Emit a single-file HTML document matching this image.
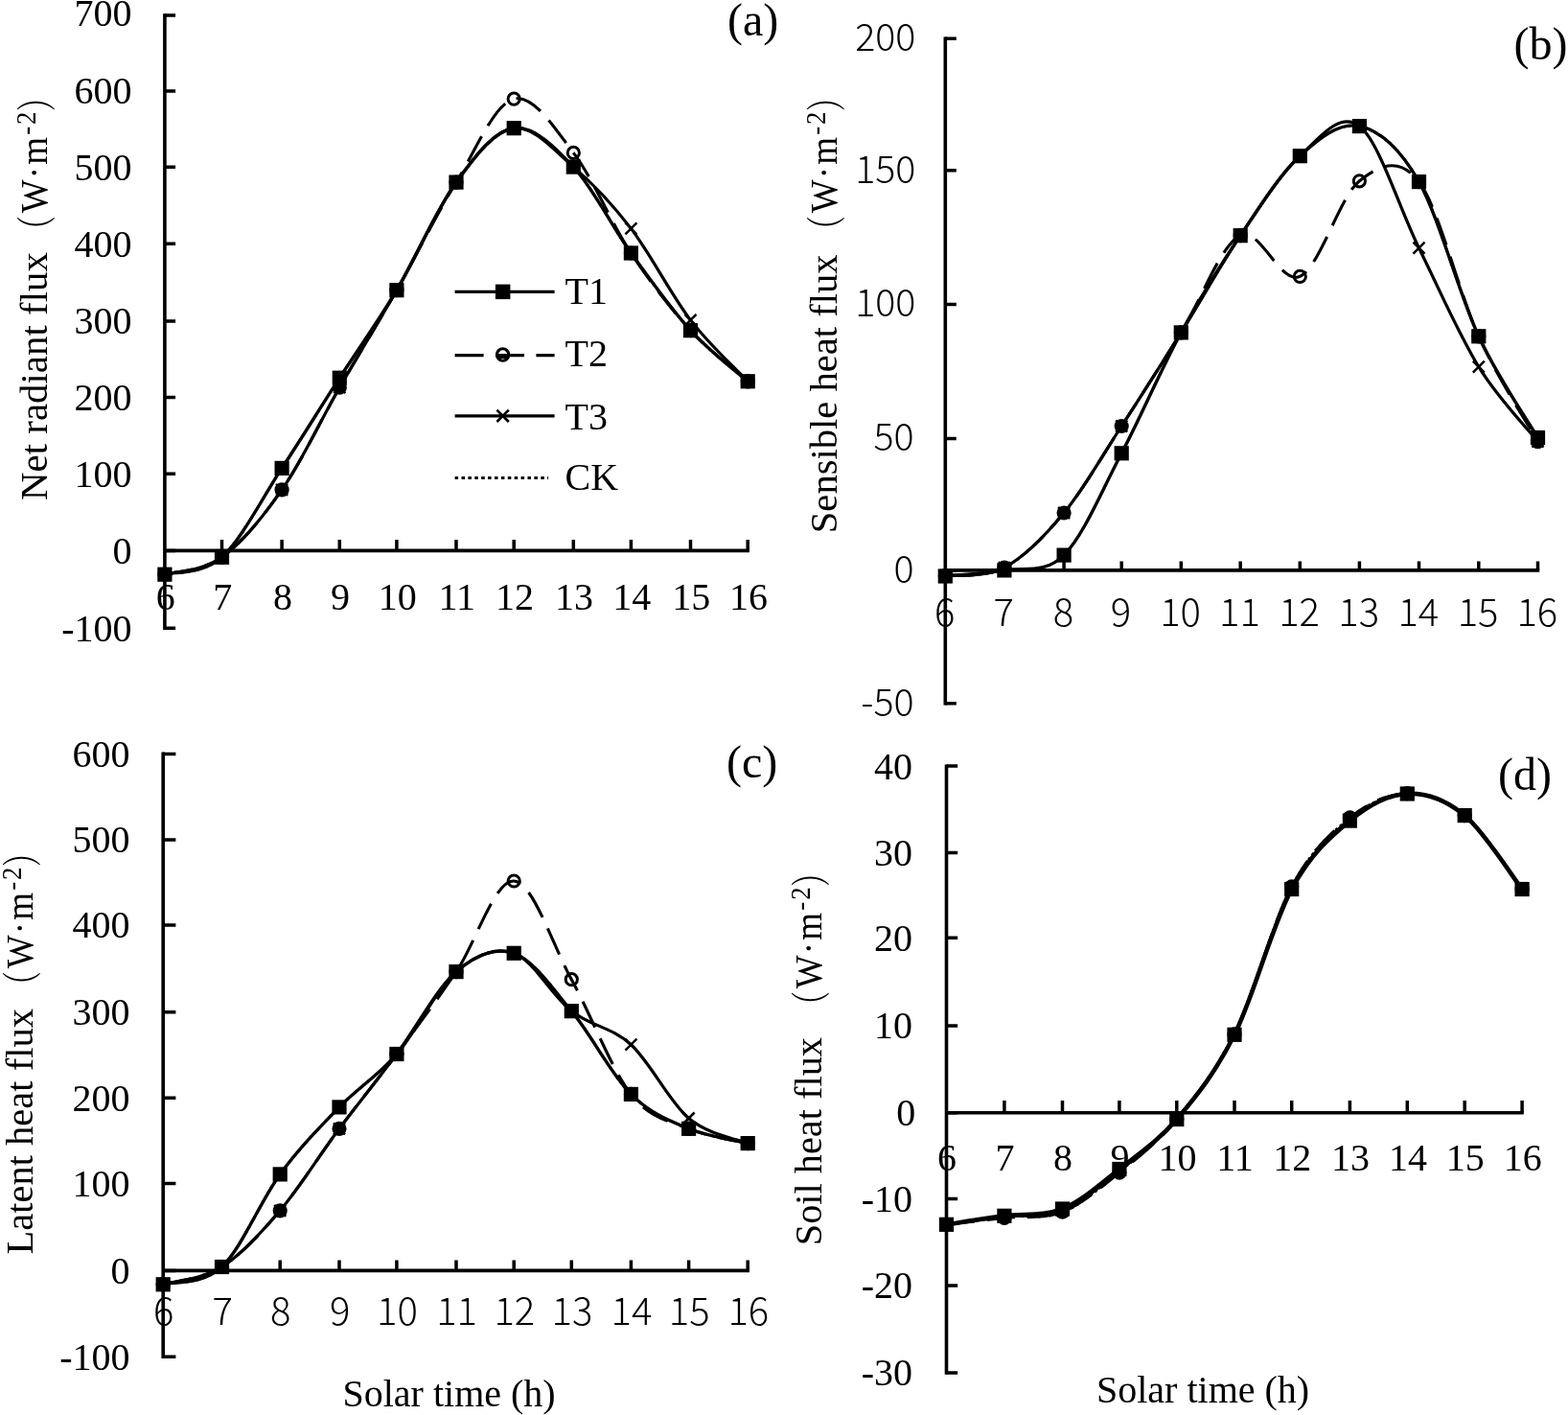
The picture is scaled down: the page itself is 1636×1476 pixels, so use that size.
<!DOCTYPE html>
<html lang="en"><head><meta charset="utf-8"><title>Diurnal variation of energy fluxes</title>
<style>html,body{margin:0;padding:0;background:#fff}body{width:1636px;height:1476px;overflow:hidden}svg{display:block}text{fill:#000}</style>
</head><body>
<svg width="1636" height="1476" viewBox="0 0 1636 1476" role="img" aria-label="Diurnal variation of net radiant, sensible, latent and soil heat flux for treatments T1, T2, T3 and CK">
<rect width="1636" height="1476" fill="#fff"/>
<g id="panel-a">
<text x="137.5" y="668.6" text-anchor="end" font-family='"Liberation Serif", "Noto Serif CJK SC", serif' font-size="40">-100</text>
<text x="137.5" y="587.8" text-anchor="end" font-family='"Liberation Serif", "Noto Serif CJK SC", serif' font-size="40">0</text>
<text x="137.5" y="507.6" text-anchor="end" font-family='"Liberation Serif", "Noto Serif CJK SC", serif' font-size="40">100</text>
<text x="137.5" y="427.9" text-anchor="end" font-family='"Liberation Serif", "Noto Serif CJK SC", serif' font-size="40">200</text>
<text x="137.5" y="348.4" text-anchor="end" font-family='"Liberation Serif", "Noto Serif CJK SC", serif' font-size="40">300</text>
<text x="137.5" y="267.7" text-anchor="end" font-family='"Liberation Serif", "Noto Serif CJK SC", serif' font-size="40">400</text>
<text x="137.5" y="187.7" text-anchor="end" font-family='"Liberation Serif", "Noto Serif CJK SC", serif' font-size="40">500</text>
<text x="137.5" y="108.4" text-anchor="end" font-family='"Liberation Serif", "Noto Serif CJK SC", serif' font-size="40">600</text>
<text x="137.5" y="27.1" text-anchor="end" font-family='"Liberation Serif", "Noto Serif CJK SC", serif' font-size="40">700</text>
<text x="172.7" y="636" text-anchor="middle" font-family='"Liberation Serif", "Noto Serif CJK SC", serif' font-size="40">6</text>
<text x="232.3" y="636" text-anchor="middle" font-family='"Liberation Serif", "Noto Serif CJK SC", serif' font-size="40">7</text>
<text x="294.9" y="636" text-anchor="middle" font-family='"Liberation Serif", "Noto Serif CJK SC", serif' font-size="40">8</text>
<text x="355.1" y="636" text-anchor="middle" font-family='"Liberation Serif", "Noto Serif CJK SC", serif' font-size="40">9</text>
<text x="414.7" y="636" text-anchor="middle" font-family='"Liberation Serif", "Noto Serif CJK SC", serif' font-size="40">10</text>
<text x="476.8" y="636" text-anchor="middle" font-family='"Liberation Serif", "Noto Serif CJK SC", serif' font-size="40">11</text>
<text x="537" y="636" text-anchor="middle" font-family='"Liberation Serif", "Noto Serif CJK SC", serif' font-size="40">12</text>
<text x="599.1" y="636" text-anchor="middle" font-family='"Liberation Serif", "Noto Serif CJK SC", serif' font-size="40">13</text>
<text x="659.2" y="636" text-anchor="middle" font-family='"Liberation Serif", "Noto Serif CJK SC", serif' font-size="40">14</text>
<text x="721.3" y="636" text-anchor="middle" font-family='"Liberation Serif", "Noto Serif CJK SC", serif' font-size="40">15</text>
<text x="781" y="636" text-anchor="middle" font-family='"Liberation Serif", "Noto Serif CJK SC", serif' font-size="40">16</text>
<text transform="translate(48.8 522) rotate(-90)" font-family='"Liberation Serif", "Noto Serif CJK SC", serif' font-size="40.9">Net radiant flux</text>
<g transform="translate(48.8 222.3) rotate(-90)"><text transform="translate(-32.1 4) scale(0.7 1)" font-family='"Noto Serif CJK SC", "Noto Sans CJK SC", serif' font-size="42">（</text><text transform="scale(0.925 1)" font-family='"Liberation Serif", "Noto Serif CJK SC", serif' font-size="40">W<tspan dx="1.2">·</tspan><tspan dx="2.3">m</tspan><tspan font-size="29" dy="-12" dx="2.5">-</tspan><tspan font-size="29" dx="2">2</tspan></text><text transform="translate(106.4 4) scale(0.7 1)" font-family='"Noto Serif CJK SC", "Noto Sans CJK SC", serif' font-size="42">）</text></g>
<text x="759" y="37" font-family='"Liberation Serif", "Noto Serif CJK SC", serif' font-size="48">(a)</text>
<g stroke="#000" fill="none">
<path d="M171.9 14.2V657" stroke-width="3.6"/>
<path d="M171.9 574.4H782" stroke-width="3.6"/>
<path d="M171.9 655.2h11.2M171.9 574.4h11.2M171.9 494.2h11.2M171.9 414.5h11.2M171.9 335h11.2M171.9 254.3h11.2M171.9 174.3h11.2M171.9 95h11.2M171.9 15.9h11.2M231.5 574.4v-11.4M294.1 574.4v-11.4M354.3 574.4v-11.4M413.9 574.4v-11.4M476 574.4v-11.4M536.2 574.4v-11.4M598.3 574.4v-11.4M658.4 574.4v-11.4M720.5 574.4v-11.4M780.2 574.4v-11.4" stroke-width="3.5"/>
</g>
<g fill="none" stroke="#000" stroke-linejoin="round">
<path d="M171.9 599.2C181.8 596.2 211.1 599.7 231.5 581.3C251.9 562.8 273.6 519.6 294.1 488.4C314.6 457.3 334.3 425.2 354.3 394.2C374.3 363.3 393.6 336.8 413.9 302.7C434.2 268.7 455.6 218.3 476 190.1C496.4 161.9 515.8 136.3 536.2 133.7C556.6 131 577.9 152.4 598.3 174.1C618.7 195.8 638 235.6 658.4 264C678.8 292.4 700.2 322.4 720.5 344.7C740.8 367 770.2 389 780.2 397.8" stroke-width="3.4"/>
<path d="M171.9 599.2C181.8 596.2 211.1 596 231.5 581.3C251.9 566.6 273.6 540.4 294.1 510.9C314.6 481.4 334.3 438.9 354.3 404.2C374.3 369.5 393.6 338.4 413.9 302.7C434.2 267.1 455.6 223.3 476 190.1C496.4 156.8 515.8 108.3 536.2 103.2C556.6 98.1 577.9 132.6 598.3 159.4C618.7 186.2 638 233.1 658.4 264C678.8 294.9 700.2 322.4 720.5 344.7C740.8 367 770.2 389 780.2 397.8" stroke-width="3.1" stroke-dasharray="29.6 12.8" stroke-dashoffset="0"/>
<path d="M171.9 599.2C181.8 596.2 211.1 596 231.5 581.3C251.9 566.6 273.6 540.4 294.1 510.9C314.6 481.4 334.3 438.9 354.3 404.2C374.3 369.5 393.6 338.4 413.9 302.7C434.2 267.1 455.6 218.3 476 190.1C496.4 161.9 515.8 136.3 536.2 133.7C556.6 131 577.9 156.6 598.3 174.1C618.7 191.6 638 211.8 658.4 238.4C678.8 265.1 700.2 307.3 720.5 333.9C740.8 360.5 770.2 387.2 780.2 397.8" stroke-width="3.2"/>
<path d="M171.9 599.2C181.8 596.2 211.1 599.7 231.5 581.3C251.9 562.8 273.6 519.6 294.1 488.4C314.6 457.3 334.3 425.2 354.3 394.2C374.3 363.3 393.6 336.8 413.9 302.7C434.2 268.7 455.6 218.3 476 190.1C496.4 161.9 515.8 136.3 536.2 133.7C556.6 131 577.9 152.4 598.3 174.1C618.7 195.8 638 235.6 658.4 264C678.8 292.4 700.2 322.4 720.5 344.7C740.8 367 770.2 389 780.2 397.8" stroke-width="2.6" stroke-dasharray="3 3"/>
</g>
<g fill="#000"><rect x="164.3" y="591.6" width="15.2" height="15.2"/><rect x="223.9" y="573.7" width="15.2" height="15.2"/><rect x="286.5" y="480.8" width="15.2" height="15.2"/><rect x="346.7" y="386.6" width="15.2" height="15.2"/><rect x="406.3" y="295.1" width="15.2" height="15.2"/><rect x="468.4" y="182.5" width="15.2" height="15.2"/><rect x="528.6" y="126.1" width="15.2" height="15.2"/><rect x="590.7" y="166.5" width="15.2" height="15.2"/><rect x="650.8" y="256.4" width="15.2" height="15.2"/><rect x="712.9" y="337.1" width="15.2" height="15.2"/><rect x="772.6" y="390.2" width="15.2" height="15.2"/></g>
<g stroke="#000" stroke-width="3"><circle cx="171.9" cy="599.2" r="6.1" fill="#000"/><circle cx="231.5" cy="581.3" r="6.1" fill="#000"/><circle cx="294.1" cy="510.9" r="6.1" fill="#000"/><circle cx="354.3" cy="404.2" r="6.1" fill="#000"/><circle cx="413.9" cy="302.7" r="6.1" fill="#000"/><circle cx="476" cy="190.1" r="6.1" fill="#000"/><circle cx="536.2" cy="103.2" r="6.1" fill="none"/><circle cx="598.3" cy="159.4" r="6.1" fill="none"/><circle cx="658.4" cy="264" r="6.1" fill="none"/><circle cx="720.5" cy="344.7" r="6.1" fill="none"/><circle cx="780.2" cy="397.8" r="6.1" fill="#000"/></g>
<path d="M165.9 593.2l12 12m-12 0l12 -12M225.5 575.3l12 12m-12 0l12 -12M288.1 504.9l12 12m-12 0l12 -12M348.3 398.2l12 12m-12 0l12 -12M407.9 296.7l12 12m-12 0l12 -12M470 184.1l12 12m-12 0l12 -12M530.2 127.7l12 12m-12 0l12 -12M592.3 168.1l12 12m-12 0l12 -12M652.4 232.4l12 12m-12 0l12 -12M714.5 327.9l12 12m-12 0l12 -12M774.2 391.8l12 12m-12 0l12 -12" stroke="#000" stroke-width="2.5" fill="none"/>
</g>
<g id="panel-b">
<text x="953.6" y="746.6" text-anchor="end" font-family='"Noto Sans CJK SC", "Liberation Sans", sans-serif' font-size="39.4" font-weight="300">-50</text>
<text x="953.6" y="607.8" text-anchor="end" font-family='"Noto Sans CJK SC", "Liberation Sans", sans-serif' font-size="39.4" font-weight="300">0</text>
<text x="953.6" y="470.4" text-anchor="end" font-family='"Noto Sans CJK SC", "Liberation Sans", sans-serif' font-size="39.4" font-weight="300">50</text>
<text x="955.4" y="330.3" text-anchor="end" font-family='"Noto Sans CJK SC", "Liberation Sans", sans-serif' font-size="39.4" font-weight="300">100</text>
<text x="955.4" y="190.7" text-anchor="end" font-family='"Noto Sans CJK SC", "Liberation Sans", sans-serif' font-size="39.4" font-weight="300">150</text>
<text x="955.4" y="53.2" text-anchor="end" font-family='"Noto Sans CJK SC", "Liberation Sans", sans-serif' font-size="39.4" font-weight="300">200</text>
<text x="985.6" y="652.8" text-anchor="middle" font-family='"Noto Sans CJK SC", "Liberation Sans", sans-serif' font-size="40" font-weight="300">6</text>
<text x="1047.2" y="652.8" text-anchor="middle" font-family='"Noto Sans CJK SC", "Liberation Sans", sans-serif' font-size="40" font-weight="300">7</text>
<text x="1109.4" y="652.8" text-anchor="middle" font-family='"Noto Sans CJK SC", "Liberation Sans", sans-serif' font-size="40" font-weight="300">8</text>
<text x="1169.5" y="652.8" text-anchor="middle" font-family='"Noto Sans CJK SC", "Liberation Sans", sans-serif' font-size="40" font-weight="300">9</text>
<text x="1231.6" y="652.8" text-anchor="middle" font-family='"Noto Sans CJK SC", "Liberation Sans", sans-serif' font-size="40" font-weight="300">10</text>
<text x="1293.5" y="652.8" text-anchor="middle" font-family='"Noto Sans CJK SC", "Liberation Sans", sans-serif' font-size="40" font-weight="300">11</text>
<text x="1355.6" y="652.8" text-anchor="middle" font-family='"Noto Sans CJK SC", "Liberation Sans", sans-serif' font-size="40" font-weight="300">12</text>
<text x="1417.7" y="652.8" text-anchor="middle" font-family='"Noto Sans CJK SC", "Liberation Sans", sans-serif' font-size="40" font-weight="300">13</text>
<text x="1479.8" y="652.8" text-anchor="middle" font-family='"Noto Sans CJK SC", "Liberation Sans", sans-serif' font-size="40" font-weight="300">14</text>
<text x="1542.1" y="652.8" text-anchor="middle" font-family='"Noto Sans CJK SC", "Liberation Sans", sans-serif' font-size="40" font-weight="300">15</text>
<text x="1603.8" y="652.8" text-anchor="middle" font-family='"Noto Sans CJK SC", "Liberation Sans", sans-serif' font-size="40" font-weight="300">16</text>
<text transform="translate(872.9 556.2) rotate(-90)" font-family='"Liberation Serif", "Noto Serif CJK SC", serif' font-size="40.6">Sensible heat flux</text>
<g transform="translate(872.9 222.3) rotate(-90)"><text transform="translate(-32.1 4) scale(0.7 1)" font-family='"Noto Serif CJK SC", "Noto Sans CJK SC", serif' font-size="42">（</text><text transform="scale(0.925 1)" font-family='"Liberation Serif", "Noto Serif CJK SC", serif' font-size="40">W<tspan dx="1.2">·</tspan><tspan dx="2.3">m</tspan><tspan font-size="29" dy="-12" dx="2.5">-</tspan><tspan font-size="29" dx="2">2</tspan></text><text transform="translate(106.4 4) scale(0.7 1)" font-family='"Noto Serif CJK SC", "Noto Sans CJK SC", serif' font-size="42">）</text></g>
<text x="1579.5" y="61.9" font-family='"Liberation Serif", "Noto Serif CJK SC", serif' font-size="48">(b)</text>
<g stroke="#000" fill="none">
<path d="M986.3 38.5V735.5" stroke-width="3.6"/>
<path d="M986.3 594.9H1606.2" stroke-width="3.6"/>
<path d="M986.3 733.7h11.5M986.3 594.9h11.5M986.3 457.5h11.5M986.3 317.4h11.5M986.3 177.8h11.5M986.3 40.3h11.5M1047.9 594.9v-9.5M1110.1 594.9v-9.5M1170.2 594.9v-9.5M1232.3 594.9v-9.5M1294.2 594.9v-9.5M1356.3 594.9v-9.5M1418.4 594.9v-9.5M1480.5 594.9v-9.5M1542.8 594.9v-9.5M1604.5 594.9v-9.5" stroke-width="3.5"/>
</g>
<g fill="none" stroke="#000" stroke-linejoin="round">
<path d="M986.3 601C996.6 600 1027.3 598.6 1047.9 594.9C1068.5 591.2 1089.7 599.4 1110.1 579.1C1130.5 558.7 1149.8 511.5 1170.2 472.8C1190.6 434.1 1211.6 384.8 1232.3 346.9C1253 309 1273.5 276.4 1294.2 245.7C1314.9 215 1335.6 181.7 1356.3 162.7C1377 143.7 1397.7 127.2 1418.4 131.6C1439.1 136.1 1459.8 153.1 1480.5 189.6C1501.2 226.1 1522.1 306.3 1542.8 350.8C1563.5 395.3 1594.2 438.9 1604.5 456.5" stroke-width="3.4"/>
<path d="M986.3 600.4C996.6 599.1 1027.3 603 1047.9 592.1C1068.5 581.2 1089.7 559.6 1110.1 535C1130.5 510.4 1149.8 475.9 1170.2 444.5C1190.6 413.2 1211.6 380.1 1232.3 346.9C1253 313.8 1273.5 255.4 1294.2 245.7C1314.9 235.9 1335.6 297.9 1356.3 288.4C1377 278.9 1397.7 205.2 1418.4 188.8C1439.1 172.3 1459.8 162.6 1480.5 189.6C1501.2 216.6 1522.1 305.6 1542.8 350.8C1563.5 396 1594.2 442.3 1604.5 460.6" stroke-width="3.1" stroke-dasharray="29.6 12.8" stroke-dashoffset="0"/>
<path d="M986.3 600.4C996.6 599.1 1027.3 603 1047.9 592.1C1068.5 581.2 1089.7 559.6 1110.1 535C1130.5 510.4 1149.8 475.9 1170.2 444.5C1190.6 413.2 1211.6 380.1 1232.3 346.9C1253 313.8 1273.5 276.4 1294.2 245.7C1314.9 215 1335.6 181.7 1356.3 162.7C1377 143.7 1397.7 115.6 1418.4 131.6C1439.1 147.6 1459.8 216.9 1480.5 258.7C1501.2 300.5 1522.1 349 1542.8 382.7C1563.5 416.3 1594.2 447.6 1604.5 460.6" stroke-width="3.2"/>
<path d="M986.3 600.4C996.6 599.1 1027.3 603 1047.9 592.1C1068.5 581.2 1089.7 559.6 1110.1 535C1130.5 510.4 1149.8 475.9 1170.2 444.5C1190.6 413.2 1211.6 380.1 1232.3 346.9C1253 313.8 1273.5 276.4 1294.2 245.7C1314.9 215 1335.6 181.7 1356.3 162.7C1377 143.7 1397.7 127.2 1418.4 131.6C1439.1 136.1 1459.8 153.1 1480.5 189.6C1501.2 226.1 1522.1 306.3 1542.8 350.8C1563.5 395.3 1594.2 438.9 1604.5 456.5" stroke-width="2.6" stroke-dasharray="3 3"/>
</g>
<g fill="#000"><rect x="978.7" y="593.4" width="15.2" height="15.2"/><rect x="1040.3" y="587.3" width="15.2" height="15.2"/><rect x="1102.5" y="571.5" width="15.2" height="15.2"/><rect x="1162.6" y="465.2" width="15.2" height="15.2"/><rect x="1224.7" y="339.3" width="15.2" height="15.2"/><rect x="1286.6" y="238.1" width="15.2" height="15.2"/><rect x="1348.7" y="155.1" width="15.2" height="15.2"/><rect x="1410.8" y="124" width="15.2" height="15.2"/><rect x="1472.9" y="182" width="15.2" height="15.2"/><rect x="1535.2" y="343.2" width="15.2" height="15.2"/><rect x="1596.9" y="448.9" width="15.2" height="15.2"/></g>
<g stroke="#000" stroke-width="3"><circle cx="986.3" cy="600.4" r="6.1" fill="#000"/><circle cx="1047.9" cy="592.1" r="6.1" fill="#000"/><circle cx="1110.1" cy="535" r="6.1" fill="#000"/><circle cx="1170.2" cy="444.5" r="6.1" fill="#000"/><circle cx="1232.3" cy="346.9" r="6.1" fill="#000"/><circle cx="1294.2" cy="245.7" r="6.1" fill="#000"/><circle cx="1356.3" cy="288.4" r="6.1" fill="none"/><circle cx="1418.4" cy="188.8" r="6.1" fill="none"/><circle cx="1480.5" cy="189.6" r="6.1" fill="none"/><circle cx="1542.8" cy="350.8" r="6.1" fill="none"/><circle cx="1604.5" cy="460.6" r="6.1" fill="#000"/></g>
<path d="M980.3 594.4l12 12m-12 0l12 -12M1041.9 586.1l12 12m-12 0l12 -12M1104.1 529l12 12m-12 0l12 -12M1164.2 438.5l12 12m-12 0l12 -12M1226.3 340.9l12 12m-12 0l12 -12M1288.2 239.7l12 12m-12 0l12 -12M1350.3 156.7l12 12m-12 0l12 -12M1412.4 125.6l12 12m-12 0l12 -12M1474.5 252.7l12 12m-12 0l12 -12M1536.8 376.7l12 12m-12 0l12 -12M1598.5 454.6l12 12m-12 0l12 -12" stroke="#000" stroke-width="2.5" fill="none"/>
</g>
<g id="panel-c">
<text x="135.5" y="1428.6" text-anchor="end" font-family='"Liberation Serif", "Noto Serif CJK SC", serif' font-size="40">-100</text>
<text x="135.5" y="1338.9" text-anchor="end" font-family='"Liberation Serif", "Noto Serif CJK SC", serif' font-size="40">0</text>
<text x="135.5" y="1248" text-anchor="end" font-family='"Liberation Serif", "Noto Serif CJK SC", serif' font-size="40">100</text>
<text x="135.5" y="1158.7" text-anchor="end" font-family='"Liberation Serif", "Noto Serif CJK SC", serif' font-size="40">200</text>
<text x="135.5" y="1069.2" text-anchor="end" font-family='"Liberation Serif", "Noto Serif CJK SC", serif' font-size="40">300</text>
<text x="135.5" y="978.3" text-anchor="end" font-family='"Liberation Serif", "Noto Serif CJK SC", serif' font-size="40">400</text>
<text x="135.5" y="889.3" text-anchor="end" font-family='"Liberation Serif", "Noto Serif CJK SC", serif' font-size="40">500</text>
<text x="135.5" y="799.8" text-anchor="end" font-family='"Liberation Serif", "Noto Serif CJK SC", serif' font-size="40">600</text>
<text x="170.8" y="1381.6" text-anchor="middle" font-family='"Noto Sans CJK SC", "Liberation Sans", sans-serif' font-size="40" font-weight="300">6</text>
<text x="232.1" y="1381.6" text-anchor="middle" font-family='"Noto Sans CJK SC", "Liberation Sans", sans-serif' font-size="40" font-weight="300">7</text>
<text x="292.8" y="1381.6" text-anchor="middle" font-family='"Noto Sans CJK SC", "Liberation Sans", sans-serif' font-size="40" font-weight="300">8</text>
<text x="354.6" y="1381.6" text-anchor="middle" font-family='"Noto Sans CJK SC", "Liberation Sans", sans-serif' font-size="40" font-weight="300">9</text>
<text x="414.5" y="1381.6" text-anchor="middle" font-family='"Noto Sans CJK SC", "Liberation Sans", sans-serif' font-size="40" font-weight="300">10</text>
<text x="476.6" y="1381.6" text-anchor="middle" font-family='"Noto Sans CJK SC", "Liberation Sans", sans-serif' font-size="40" font-weight="300">11</text>
<text x="536.8" y="1381.6" text-anchor="middle" font-family='"Noto Sans CJK SC", "Liberation Sans", sans-serif' font-size="40" font-weight="300">12</text>
<text x="596.9" y="1381.6" text-anchor="middle" font-family='"Noto Sans CJK SC", "Liberation Sans", sans-serif' font-size="40" font-weight="300">13</text>
<text x="659" y="1381.6" text-anchor="middle" font-family='"Noto Sans CJK SC", "Liberation Sans", sans-serif' font-size="40" font-weight="300">14</text>
<text x="719.2" y="1381.6" text-anchor="middle" font-family='"Noto Sans CJK SC", "Liberation Sans", sans-serif' font-size="40" font-weight="300">15</text>
<text x="780.8" y="1381.6" text-anchor="middle" font-family='"Noto Sans CJK SC", "Liberation Sans", sans-serif' font-size="40" font-weight="300">16</text>
<text transform="translate(34 1308.5) rotate(-90)" font-family='"Liberation Serif", "Noto Serif CJK SC", serif' font-size="40.5">Latent heat flux</text>
<g transform="translate(34 1010.3) rotate(-90)"><text transform="translate(-32.1 4) scale(0.7 1)" font-family='"Noto Serif CJK SC", "Noto Sans CJK SC", serif' font-size="42">（</text><text transform="scale(0.925 1)" font-family='"Liberation Serif", "Noto Serif CJK SC", serif' font-size="40">W<tspan dx="1.2">·</tspan><tspan dx="2.3">m</tspan><tspan font-size="29" dy="-12" dx="2.5">-</tspan><tspan font-size="29" dx="2">2</tspan></text><text transform="translate(106.4 4) scale(0.7 1)" font-family='"Noto Serif CJK SC", "Noto Sans CJK SC", serif' font-size="42">）</text></g>
<text x="357.5" y="1467" font-family='"Liberation Serif", "Noto Serif CJK SC", serif' font-size="40">Solar time (h)</text>
<text x="758" y="810.6" font-family='"Liberation Serif", "Noto Serif CJK SC", serif' font-size="48">(c)</text>
<g stroke="#000" fill="none">
<path d="M170.2 784.6V1417" stroke-width="3.6"/>
<path d="M170.2 1325.4H782" stroke-width="3.6"/>
<path d="M170.2 1415.2h13.2M170.2 1325.5h13.2M170.2 1234.6h13.2M170.2 1145.3h13.2M170.2 1055.8h13.2M170.2 964.9h13.2M170.2 875.9h13.2M170.2 786.4h13.2M231.5 1325.4v-11M292.2 1325.4v-11M354 1325.4v-11M413.9 1325.4v-11M476 1325.4v-11M536.2 1325.4v-11M596.3 1325.4v-11M658.4 1325.4v-11M718.6 1325.4v-11M780.2 1325.4v-11" stroke-width="3.5"/>
</g>
<g fill="none" stroke="#000" stroke-linejoin="round">
<path d="M170.2 1339.8C180.4 1336.7 211.2 1340.7 231.5 1321.5C251.8 1302.4 271.8 1252.7 292.2 1224.9C312.6 1197.1 333.7 1175.8 354 1154.9C374.3 1134 393.6 1123 413.9 1099.5C434.2 1076 455.6 1031.1 476 1013.6C496.4 996.1 516.2 987.5 536.2 994.3C556.2 1001.2 575.9 1030.2 596.3 1054.7C616.7 1079.2 638 1121 658.4 1141.4C678.8 1161.8 698.3 1168.8 718.6 1177.3C738.9 1185.8 769.9 1190 780.2 1192.6" stroke-width="3.4"/>
<path d="M170.2 1339.8C180.4 1336.7 211.2 1334.4 231.5 1321.5C251.8 1308.7 271.8 1286.8 292.2 1262.8C312.6 1238.7 333.7 1204.5 354 1177.3C374.3 1150.1 393.6 1126.8 413.9 1099.5C434.2 1072.2 455.6 1043.7 476 1013.6C496.4 983.5 516.2 917.7 536.2 919C556.2 920.4 575.9 984.6 596.3 1021.7C616.7 1058.8 638 1115.5 658.4 1141.4C678.8 1167.4 698.3 1168.8 718.6 1177.3C738.9 1185.8 769.9 1190 780.2 1192.6" stroke-width="3.1" stroke-dasharray="29.6 12.8" stroke-dashoffset="0"/>
<path d="M170.2 1339.8C180.4 1336.7 211.2 1334.4 231.5 1321.5C251.8 1308.7 271.8 1286.8 292.2 1262.8C312.6 1238.7 333.7 1204.5 354 1177.3C374.3 1150.1 393.6 1126.8 413.9 1099.5C434.2 1072.2 455.6 1031.1 476 1013.6C496.4 996.1 516.2 987.5 536.2 994.3C556.2 1001.2 575.9 1038.8 596.3 1054.7C616.7 1070.6 638 1071.1 658.4 1089.7C678.8 1108.4 698.3 1149.4 718.6 1166.5C738.9 1183.7 769.9 1188.2 780.2 1192.6" stroke-width="3.2"/>
<path d="M170.2 1339.8C180.4 1336.7 211.2 1340.7 231.5 1321.5C251.8 1302.4 271.8 1252.7 292.2 1224.9C312.6 1197.1 333.7 1175.8 354 1154.9C374.3 1134 393.6 1123 413.9 1099.5C434.2 1076 455.6 1031.1 476 1013.6C496.4 996.1 516.2 987.5 536.2 994.3C556.2 1001.2 575.9 1030.2 596.3 1054.7C616.7 1079.2 638 1121 658.4 1141.4C678.8 1161.8 698.3 1168.8 718.6 1177.3C738.9 1185.8 769.9 1190 780.2 1192.6" stroke-width="2.6" stroke-dasharray="3 3"/>
</g>
<g fill="#000"><rect x="162.6" y="1332.2" width="15.2" height="15.2"/><rect x="223.9" y="1313.9" width="15.2" height="15.2"/><rect x="284.6" y="1217.3" width="15.2" height="15.2"/><rect x="346.4" y="1147.3" width="15.2" height="15.2"/><rect x="406.3" y="1091.9" width="15.2" height="15.2"/><rect x="468.4" y="1006" width="15.2" height="15.2"/><rect x="528.6" y="986.7" width="15.2" height="15.2"/><rect x="588.7" y="1047.1" width="15.2" height="15.2"/><rect x="650.8" y="1133.8" width="15.2" height="15.2"/><rect x="711" y="1169.7" width="15.2" height="15.2"/><rect x="772.6" y="1185" width="15.2" height="15.2"/></g>
<g stroke="#000" stroke-width="3"><circle cx="170.2" cy="1339.8" r="6.1" fill="#000"/><circle cx="231.5" cy="1321.5" r="6.1" fill="#000"/><circle cx="292.2" cy="1262.8" r="6.1" fill="#000"/><circle cx="354" cy="1177.3" r="6.1" fill="#000"/><circle cx="413.9" cy="1099.5" r="6.1" fill="#000"/><circle cx="476" cy="1013.6" r="6.1" fill="#000"/><circle cx="536.2" cy="919" r="6.1" fill="none"/><circle cx="596.3" cy="1021.7" r="6.1" fill="none"/><circle cx="658.4" cy="1141.4" r="6.1" fill="none"/><circle cx="718.6" cy="1177.3" r="6.1" fill="none"/><circle cx="780.2" cy="1192.6" r="6.1" fill="#000"/></g>
<path d="M164.2 1333.8l12 12m-12 0l12 -12M225.5 1315.5l12 12m-12 0l12 -12M286.2 1256.8l12 12m-12 0l12 -12M348 1171.3l12 12m-12 0l12 -12M407.9 1093.5l12 12m-12 0l12 -12M470 1007.6l12 12m-12 0l12 -12M530.2 988.3l12 12m-12 0l12 -12M590.3 1048.7l12 12m-12 0l12 -12M652.4 1083.7l12 12m-12 0l12 -12M712.6 1160.5l12 12m-12 0l12 -12M774.2 1186.6l12 12m-12 0l12 -12" stroke="#000" stroke-width="2.5" fill="none"/>
</g>
<g id="panel-d">
<text x="952" y="1445.3" text-anchor="end" font-family='"Liberation Serif", "Noto Serif CJK SC", serif' font-size="40">-30</text>
<text x="952" y="1354.3" text-anchor="end" font-family='"Liberation Serif", "Noto Serif CJK SC", serif' font-size="40">-20</text>
<text x="952" y="1263.9" text-anchor="end" font-family='"Liberation Serif", "Noto Serif CJK SC", serif' font-size="40">-10</text>
<text x="955.3" y="1174.1" text-anchor="end" font-family='"Liberation Serif", "Noto Serif CJK SC", serif' font-size="40">0</text>
<text x="952" y="1083.4" text-anchor="end" font-family='"Liberation Serif", "Noto Serif CJK SC", serif' font-size="40">10</text>
<text x="952" y="991.7" text-anchor="end" font-family='"Liberation Serif", "Noto Serif CJK SC", serif' font-size="40">20</text>
<text x="952" y="903" text-anchor="end" font-family='"Liberation Serif", "Noto Serif CJK SC", serif' font-size="40">30</text>
<text x="952" y="812.5" text-anchor="end" font-family='"Liberation Serif", "Noto Serif CJK SC", serif' font-size="40">40</text>
<text x="988.1" y="1221" text-anchor="middle" font-family='"Liberation Serif", "Noto Serif CJK SC", serif' font-size="40">6</text>
<text x="1048.5" y="1221" text-anchor="middle" font-family='"Liberation Serif", "Noto Serif CJK SC", serif' font-size="40">7</text>
<text x="1109.1" y="1221" text-anchor="middle" font-family='"Liberation Serif", "Noto Serif CJK SC", serif' font-size="40">8</text>
<text x="1168.5" y="1221" text-anchor="middle" font-family='"Liberation Serif", "Noto Serif CJK SC", serif' font-size="40">9</text>
<text x="1228.4" y="1221" text-anchor="middle" font-family='"Liberation Serif", "Noto Serif CJK SC", serif' font-size="40">10</text>
<text x="1288.6" y="1221" text-anchor="middle" font-family='"Liberation Serif", "Noto Serif CJK SC", serif' font-size="40">11</text>
<text x="1348.3" y="1221" text-anchor="middle" font-family='"Liberation Serif", "Noto Serif CJK SC", serif' font-size="40">12</text>
<text x="1409" y="1221" text-anchor="middle" font-family='"Liberation Serif", "Noto Serif CJK SC", serif' font-size="40">13</text>
<text x="1468.9" y="1221" text-anchor="middle" font-family='"Liberation Serif", "Noto Serif CJK SC", serif' font-size="40">14</text>
<text x="1528.8" y="1221" text-anchor="middle" font-family='"Liberation Serif", "Noto Serif CJK SC", serif' font-size="40">15</text>
<text x="1588.7" y="1221" text-anchor="middle" font-family='"Liberation Serif", "Noto Serif CJK SC", serif' font-size="40">16</text>
<text transform="translate(857.2 1299.2) rotate(-90)" font-family='"Liberation Serif", "Noto Serif CJK SC", serif' font-size="40.3">Soil heat flux</text>
<g transform="translate(857.2 1031.2) rotate(-90)"><text transform="translate(-32.1 4) scale(0.7 1)" font-family='"Noto Serif CJK SC", "Noto Sans CJK SC", serif' font-size="42">（</text><text transform="scale(0.925 1)" font-family='"Liberation Serif", "Noto Serif CJK SC", serif' font-size="40">W<tspan dx="1.2">·</tspan><tspan dx="2.3">m</tspan><tspan font-size="29" dy="-12" dx="2.5">-</tspan><tspan font-size="29" dx="2">2</tspan></text><text transform="translate(106.4 4) scale(0.7 1)" font-family='"Noto Serif CJK SC", "Noto Sans CJK SC", serif' font-size="42">）</text></g>
<text x="1144" y="1462.7" font-family='"Liberation Serif", "Noto Serif CJK SC", serif' font-size="40">Solar time (h)</text>
<text x="1563" y="824" font-family='"Liberation Serif", "Noto Serif CJK SC", serif' font-size="48">(d)</text>
<g stroke="#000" fill="none">
<path d="M987.5 797.4V1433.7" stroke-width="3.6"/>
<path d="M987.5 1160.7H1589.8" stroke-width="3.6"/>
<path d="M987.5 1431.9h11.7M987.5 1340.9h11.7M987.5 1250.5h11.7M987.5 1160.7h11.7M987.5 1070h11.7M987.5 978.3h11.7M987.5 889.6h11.7M987.5 799.1h11.7M1047.9 1160.7v-12.7M1108.5 1160.7v-12.7M1167.9 1160.7v-12.7M1227.8 1160.7v-12.7M1288 1160.7v-12.7M1347.7 1160.7v-12.7M1408.4 1160.7v-12.7M1468.3 1160.7v-12.7M1528.2 1160.7v-12.7M1588.1 1160.7v-12.7" stroke-width="3.5"/>
</g>
<g fill="none" stroke="#000" stroke-linejoin="round">
<path d="M987.5 1277.3C997.6 1275.8 1027.7 1271 1047.9 1268.3C1068.1 1265.6 1088.5 1269.2 1108.5 1261C1128.5 1252.9 1148 1235.1 1167.9 1219.5C1187.8 1203.9 1207.8 1190.8 1227.8 1167.5C1247.8 1144.1 1268 1119.3 1288 1079.3C1308 1039.3 1327.6 964.7 1347.7 927.5C1367.8 890.3 1388.3 872.6 1408.4 856.1C1428.5 839.5 1448.3 828.9 1468.3 828C1488.3 827.1 1508.2 834.1 1528.2 850.6C1548.2 867.2 1578.1 914.7 1588.1 927.5" stroke-width="4.6"/>
<path d="M987.5 1277.3C997.6 1276.2 1027.7 1272.7 1047.9 1270.5C1068.1 1268.4 1088.5 1272.1 1108.5 1264.2C1128.5 1256.3 1148 1239.2 1167.9 1223.1C1187.8 1207 1207.8 1191.5 1227.8 1167.5C1247.8 1143.4 1268 1119.3 1288 1078.9C1308 1038.4 1327.6 962.4 1347.7 924.8C1367.8 887.1 1388.3 869.1 1408.4 852.9C1428.5 836.7 1448.3 828 1468.3 827.6C1488.3 827.2 1508.2 834 1528.2 850.6C1548.2 867.3 1578.1 914.7 1588.1 927.5" stroke-width="3.1" stroke-dasharray="29.6 12.8" stroke-dashoffset="0"/>
<path d="M987.5 1277.3C997.6 1276 1027.7 1271.6 1047.9 1269.2C1068.1 1266.8 1088.5 1270.8 1108.5 1262.9C1128.5 1254.9 1148 1237.2 1167.9 1221.3C1187.8 1205.4 1207.8 1191.1 1227.8 1167.5C1247.8 1143.8 1268 1119.5 1288 1079.3C1308 1039.2 1327.6 963.9 1347.7 926.6C1367.8 889.2 1388.3 871.6 1408.4 855.1C1428.5 838.7 1448.3 828.8 1468.3 828C1488.3 827.3 1508.2 834.1 1528.2 850.6C1548.2 867.2 1578.1 914.7 1588.1 927.5" stroke-width="3.2"/>
<path d="M987.5 1277.3C997.6 1276 1027.7 1271.3 1047.9 1269.2C1068.1 1267.1 1088.5 1272.5 1108.5 1264.7C1128.5 1256.8 1148 1238.4 1167.9 1222.2C1187.8 1206 1207.8 1191.6 1227.8 1167.5C1247.8 1143.4 1268 1118 1288 1077.5C1308 1037.1 1327.6 962.1 1347.7 924.8C1367.8 887.4 1388.3 869.5 1408.4 853.3C1428.5 837.2 1448.3 828.5 1468.3 828C1488.3 827.6 1508.2 834.1 1528.2 850.6C1548.2 867.2 1578.1 914.7 1588.1 927.5" stroke-width="2.6" stroke-dasharray="3 3"/>
</g>
<g fill="#000"><rect x="979.9" y="1269.7" width="15.2" height="15.2"/><rect x="1040.3" y="1260.7" width="15.2" height="15.2"/><rect x="1100.9" y="1253.4" width="15.2" height="15.2"/><rect x="1160.3" y="1211.9" width="15.2" height="15.2"/><rect x="1220.2" y="1159.9" width="15.2" height="15.2"/><rect x="1280.4" y="1071.7" width="15.2" height="15.2"/><rect x="1340.1" y="919.9" width="15.2" height="15.2"/><rect x="1400.8" y="848.5" width="15.2" height="15.2"/><rect x="1460.7" y="820.4" width="15.2" height="15.2"/><rect x="1520.6" y="843" width="15.2" height="15.2"/><rect x="1580.5" y="919.9" width="15.2" height="15.2"/></g>
<g stroke="#000" stroke-width="3"><circle cx="987.5" cy="1277.3" r="6.1" fill="#000"/><circle cx="1047.9" cy="1270.5" r="6.1" fill="#000"/><circle cx="1108.5" cy="1264.2" r="6.1" fill="#000"/><circle cx="1167.9" cy="1223.1" r="6.1" fill="#000"/><circle cx="1227.8" cy="1167.5" r="6.1" fill="#000"/><circle cx="1288" cy="1078.9" r="6.1" fill="#000"/><circle cx="1347.7" cy="924.8" r="6.1" fill="#000"/><circle cx="1408.4" cy="852.9" r="6.1" fill="#000"/><circle cx="1468.3" cy="827.6" r="6.1" fill="#000"/><circle cx="1528.2" cy="850.6" r="6.1" fill="#000"/><circle cx="1588.1" cy="927.5" r="6.1" fill="#000"/></g>
<path d="M981.5 1271.3l12 12m-12 0l12 -12M1041.9 1263.2l12 12m-12 0l12 -12M1102.5 1256.9l12 12m-12 0l12 -12M1161.9 1215.3l12 12m-12 0l12 -12M1221.8 1161.5l12 12m-12 0l12 -12M1282 1073.3l12 12m-12 0l12 -12M1341.7 920.6l12 12m-12 0l12 -12M1402.4 849.1l12 12m-12 0l12 -12M1462.3 822l12 12m-12 0l12 -12M1522.2 844.6l12 12m-12 0l12 -12M1582.1 921.5l12 12m-12 0l12 -12" stroke="#000" stroke-width="2.5" fill="none"/>
</g>
<g id="legend">
<g stroke="#000" fill="none">
<path d="M474.6 304.4H578.6" stroke-width="3.3"/>
<path d="M474.6 370.6H578.6" stroke-width="3.1" stroke-dasharray="30 12.4"/>
<path d="M474.6 433.8H578.6" stroke-width="3.3"/>
<path d="M474.6 498.6H572.1" stroke-width="3" stroke-dasharray="3.5 3.4"/>
</g>
<g fill="#000"><rect x="516.9" y="296.6" width="15.5" height="15.5"/></g>
<path d="M520.1 372.2h9" stroke="#000" stroke-width="3.6" fill="none"/>
<circle cx="524.6" cy="370" r="6.2" fill="none" stroke="#000" stroke-width="3.1"/>
<path d="M518.4 427.6l12.4 12.4m-12.4 0l12.4 -12.4" stroke="#000" stroke-width="2.7" fill="none"/>
<text x="589.5" y="316.7" font-family='"Liberation Serif", "Noto Serif CJK SC", serif' font-size="40">T1</text>
<text x="589.5" y="381.6" font-family='"Liberation Serif", "Noto Serif CJK SC", serif' font-size="40">T2</text>
<text x="589.5" y="447.8" font-family='"Liberation Serif", "Noto Serif CJK SC", serif' font-size="40">T3</text>
<text x="589.5" y="511" font-family='"Liberation Serif", "Noto Serif CJK SC", serif' font-size="40">CK</text>
</g>
</svg></body></html>
